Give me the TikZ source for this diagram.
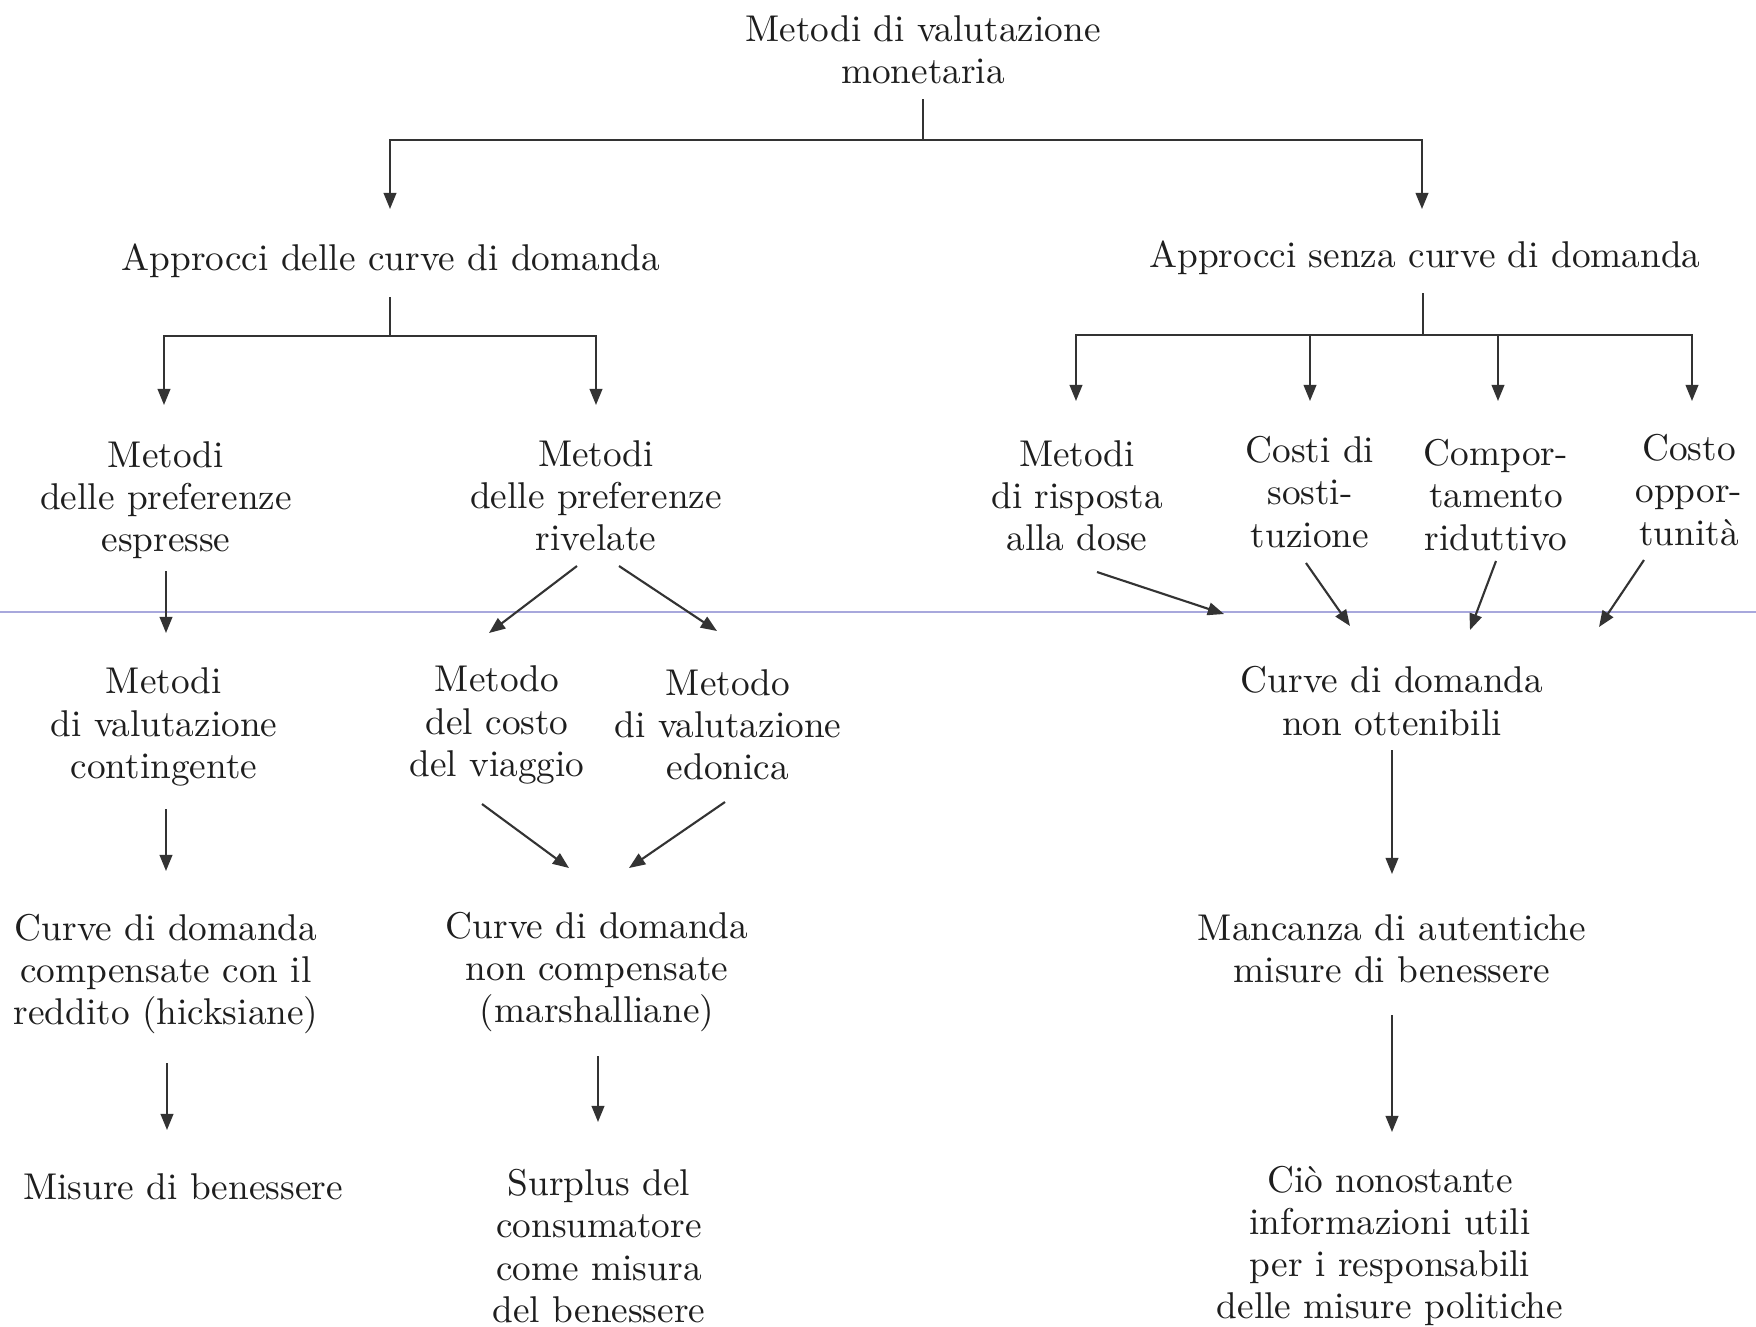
\documentclass[tikz,border=0pt]{standalone}
\usetikzlibrary{arrows.meta,calc}
\definecolor{txt}{HTML}{1E1E1E}
\definecolor{lc}{HTML}{333333}
\definecolor{scanline}{HTML}{A8A8DC}
\begin{document}
\begin{tikzpicture}[x=0.01cm,y=-0.01cm,
  lbl/.style={align=center, font=\fontsize{10.6}{12}\selectfont, text=txt, inner sep=0pt},
  ln/.style={line width=0.6pt, draw=lc},
  arr/.style={ln, -{Triangle[length=4.6pt,width=3.6pt]}}]
\useasboundingbox[fill=white] (0,0) rectangle (1756,1326);
\draw[scanline, line width=0.3pt] (0,612) -- (1756,612);

% nodes
\node[lbl] (top) at (923,50) {Metodi di valutazione\\monetaria};
\node[lbl] (aL) at (391,261) {Approcci delle curve di domanda};
\node[lbl] (aR) at (1425,258) {Approcci senza curve di domanda};
\node[lbl] (esp) at (166,500) {Metodi\\delle preferenze\\espresse};
\node[lbl] (riv) at (596,496) {Metodi\\delle preferenze\\rivelate};
\node[lbl] (dose) at (1077,496) {Metodi\\di risposta\\alla dose};
\node[lbl] (sost) at (1310,492) {Costi di\\sosti-\\tuzione};
\node[lbl] (comp) at (1496,495) {Compor-\\tamento\\riduttivo};
\node[lbl] (opp) at (1689,490) {Costo\\oppor-\\tunità};
\node[lbl] (cont) at (164,727) {Metodi\\di valutazione\\contingente};
\node[lbl] (viag) at (497,725) {Metodo\\del costo\\del viaggio};
\node[lbl] (edon) at (728,725) {Metodo\\di valutazione\\edonica};
\node[lbl] (nott) at (1392,701) {Curve di domanda\\non ottenibili};
\node[lbl] (hick) at (166,974) {Curve di domanda\\compensate con il\\reddito (hicksiane)};
\node[lbl] (mars) at (597,972) {Curve di domanda\\non compensate\\(marshalliane)};
\node[lbl] (manc) at (1392,949) {Mancanza di autentiche\\misure di benessere};
\node[lbl] (mis) at (183,1187) {Misure di benessere};
\node[lbl] (surp) at (599,1246) {Surplus del\\consumatore\\come misura\\del benessere};
\node[lbl] (cio) at (1390,1246) {Ciò nonostante\\informazioni utili\\per i responsabili\\delle misure politiche};

% top tree
\draw[ln] ($(top)+(0,49)$) -- ($(top)+(0,90)$) coordinate (j0);
\draw[arr] (j0) -| ($(aL)+(-1,-52)$);
\draw[arr] (j0) -| ($(aR)+(-3,-49)$);

% left tree
\draw[ln] ($(aL)+(-1,36)$) -- ($(aL)+(-1,75)$) coordinate (j1);
\draw[arr] (j1) -| ($(esp)+(-2,-95)$);
\draw[arr] (j1) -| ($(riv)+(0,-91)$);

% right tree
\draw[ln] ($(aR)+(-2,35)$) -- ($(aR)+(-2,77)$) coordinate (j2);
\draw[arr] (j2) -| ($(dose)+(-1,-95)$);
\draw[arr] (j2) -| ($(sost)+(0,-91)$);
\draw[arr] (j2) -| ($(comp)+(2,-94)$);
\draw[arr] (j2) -| ($(opp)+(3,-89)$);

% left column
\draw[arr] ($(esp)+(0,71)$) -- ($(cont)+(2,-94)$);
\draw[arr] ($(cont)+(2,82)$) -- ($(hick)+(0,-103)$);
\draw[arr] ($(hick)+(1,89)$) -- ($(mis)+(-16,-57)$);

% middle column
\draw[arr] ($(riv)+(-19,70)$) -- ($(viag)+(-8,-92)$);
\draw[arr] ($(riv)+(23,70)$) -- ($(edon)+(-11,-94)$);
\draw[arr] ($(viag)+(-15,79)$) -- ($(mars)+(-28,-104)$);
\draw[arr] ($(edon)+(-3,77)$) -- ($(mars)+(32,-104)$);
\draw[arr] ($(mars)+(1,84)$) -- ($(surp)+(-1,-124)$);

% right column
\draw[arr] ($(dose)+(20,76)$) -- ($(nott)+(-168,-87)$);
\draw[arr] ($(sost)+(-4,71)$) -- ($(nott)+(-42,-75)$);
\draw[arr] ($(comp)+(0,66)$) -- ($(nott)+(78,-71)$);
\draw[arr] ($(opp)+(-45,70)$) -- ($(nott)+(207,-74)$);
\draw[arr] ($(nott)+(0,49)$) -- ($(manc)+(0,-75)$);
\draw[arr] ($(manc)+(0,66)$) -- ($(cio)+(2,-114)$);
\end{tikzpicture}
\end{document}
